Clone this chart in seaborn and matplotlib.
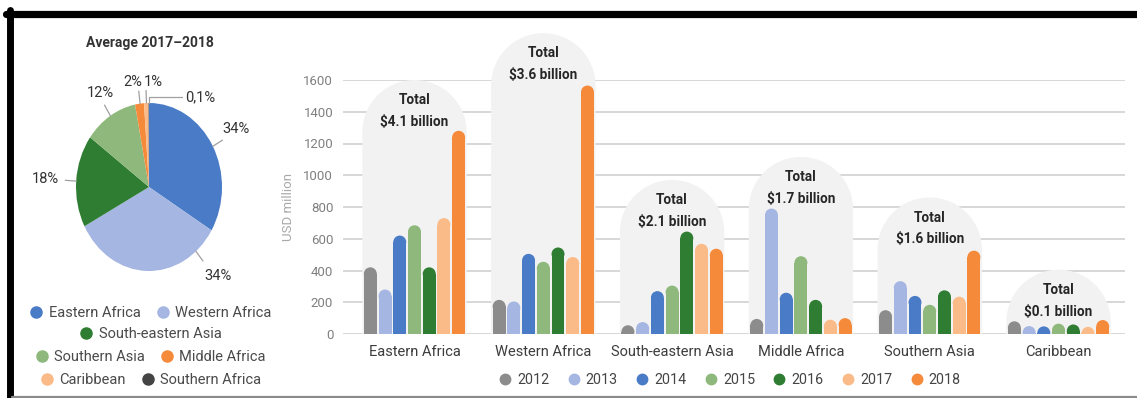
import numpy as np
import pandas as pd
import matplotlib
matplotlib.use("Agg")
import matplotlib.pyplot as plt
from matplotlib.patches import Ellipse, Polygon
from matplotlib.lines import Line2D
import seaborn as sns

# ---- data -----------------------------------------------------------------
regions = ["Eastern Africa", "Western Africa", "South-eastern Asia",
           "Middle Africa", "Southern Asia", "Caribbean"]
years = ["2012", "2013", "2014", "2015", "2016", "2017", "2018"]

# USD million per year, one list per region (2012 ... 2018)
eastern_africa = [420, 280, 620, 685, 420, 730, 1280]
western_africa = [215, 205, 505, 455, 545, 485, 1565]
south_eastern_asia = [55, 75, 270, 305, 645, 568, 537]
middle_africa = [95, 790, 260, 490, 215, 90, 100]
southern_asia = [150, 333, 240, 184, 275, 235, 525]
caribbean = [80, 50, 48, 65, 60, 45, 88]

totals_billion = [4.1, 3.6, 2.1, 1.7, 1.6, 0.1]

pie_regions = ["Eastern Africa", "Western Africa", "South-eastern Asia",
               "Southern Asia", "Middle Africa", "Caribbean", "Southern Africa"]
pie_share = [34, 34, 18, 12, 2, 1, 0.1]
pie_text = ["34%", "34%", "18%", "12%", "2%", "1%", "0,1%"]

# ---- style ----------------------------------------------------------------
year_colors = ["#8c8c8c", "#a4b6e1", "#4a7bc6", "#8fb97c",
               "#2f7d32", "#fbbb88", "#f58a3b"]
region_colors = {
    "Eastern Africa": "#4a7bc6", "Western Africa": "#a4b6e1",
    "South-eastern Asia": "#2f7d32", "Southern Asia": "#8fb97c",
    "Middle Africa": "#f58a3b", "Caribbean": "#fbbb88",
    "Southern Africa": "#444444",
}
dome_top = [1600, 1895, 970, 1115, 860, 405]   # height of the grey backdrop

sns.set_style("white")
plt.rcParams["font.family"] = ["Roboto", "DejaVu Sans"]

W, H = 1137, 398
fig = plt.figure(figsize=(W / 100, H / 100), dpi=100)


def fx(px):
    return px / W


def fy(py):
    return 1 - py / H


# ---- bar chart ------------------------------------------------------------
series = [eastern_africa, western_africa, south_eastern_asia,
          middle_africa, southern_asia, caribbean]
df = pd.DataFrame(
    [(r, y, v) for r, vals in zip(regions, series) for y, v in zip(years, vals)],
    columns=["region", "year", "usd"],
)

ax = fig.add_axes([fx(343), fy(334), fx(1125) - fx(343), fy(80) - fy(334)])
sns.barplot(data=df, x="region", y="usd", hue="year", order=regions,
            hue_order=years, palette=year_colors, saturation=1,
            width=0.8, gap=0.12, legend=False, ax=ax, linewidth=0)
bars = list(ax.patches)

xlim = (-0.555, 5.516)
ylim = (0, 1600)
ax.set_xlim(*xlim)
ax.set_ylim(*ylim)
ax.set_yticks(np.arange(0, 1601, 200))
ax.yaxis.grid(True, color="#d4d4d4", linewidth=1.3, zorder=0)
ax.set_axisbelow(True)
for s in ax.spines.values():
    s.set_visible(False)
ax.tick_params(axis="both", length=0)
ax.tick_params(axis="y", labelsize=9.5, labelcolor="#808080", pad=7)
ax.tick_params(axis="x", labelsize=10.5, labelcolor="#3c3c3c", pad=8)
ax.set_xlabel("")
ax.set_ylabel("USD million", fontsize=9.5, color="#a8a8a8", labelpad=6)

bb = ax.get_position()
px_x = bb.width * W / (xlim[1] - xlim[0])
px_y = bb.height * H / (ylim[1] - ylim[0])

# rounded tops on every bar
for bar in bars:
    x, w, h = bar.get_x(), bar.get_width(), bar.get_height()
    ry = (w * px_x / 2) / px_y
    bar.set_height(max(h - ry, 0))
    bar.set_zorder(3)
    ax.add_patch(Ellipse((x + w / 2, h - ry), w, 2 * ry,
                         facecolor=bar.get_facecolor(), lw=0, zorder=3))

# grey arched backdrops with totals
dome_w = 0.81
t = np.linspace(0, np.pi, 90)
for i, (top, tot) in enumerate(zip(dome_top, totals_billion)):
    ry = (dome_w * px_x / 2) / px_y
    cy = top - ry
    arc_x = i + dome_w / 2 * np.cos(t)
    arc_y = np.clip(cy + ry * np.sin(t), 0, None)
    verts = np.column_stack([
        np.r_[i + dome_w / 2, arc_x, i - dome_w / 2],
        np.r_[0, arc_y, 0],
    ])
    ax.add_patch(Polygon(verts, closed=True, facecolor="#f2f2f2", lw=0,
                         zorder=1, clip_on=False))
    ax.text(i, top - 31 / px_y, f"Total\n${tot:.1f} billion", ha="center",
            va="center", fontsize=9.8, fontweight="bold", color="#262626",
            linespacing=1.7, zorder=4, clip_on=False)

year_handles = [Line2D([], [], marker="o", ls="", color=c, markersize=7.5)
                for c in year_colors]
fig.legend(year_handles, years, loc="center", bbox_to_anchor=(fx(730), fy(380)),
           ncol=7, frameon=False, fontsize=10.3, labelcolor="#444444",
           handlelength=0.8, handletextpad=0.45, columnspacing=1.3,
           borderpad=0)

# ---- pie ------------------------------------------------------------------
pax = fig.add_axes([fx(76), fy(271), fx(222) - fx(76), fy(103) - fy(271)])
wedges, _ = pax.pie(pie_share, colors=[region_colors[r] for r in pie_regions],
                    startangle=90, counterclock=False,
                    wedgeprops=dict(linewidth=0))
pax.set_aspect("auto")
pax.set_xlim(-1, 1)
pax.set_ylim(-1, 1)
pax.axis("off")

label_angle = [30, -48, 176, 121, 100, 87, None]
leader_angle = [29, -50, 176, 122, 97, 92, None]
label_r = [1.38, 1.42, 1.42, 1.30, 1.27, 1.25, None]
lead_col = "#a0a0a0"
for txt, la, ld, lr in zip(pie_text, label_angle, leader_angle, label_r):
    if la is None:
        continue
    a = np.deg2rad(ld)
    pax.plot([np.cos(a), 1.15 * np.cos(a)], [np.sin(a), 1.15 * np.sin(a)],
             color=lead_col, lw=0.9, clip_on=False)
    b = np.deg2rad(la)
    pax.text(lr * np.cos(b), lr * np.sin(b), txt, ha="center", va="center",
             fontsize=10.5, color="#333333", clip_on=False)
# the thinnest slice gets an elbow leader
pax.plot([0.0, 0.0, 0.45], [1.0, 1.07, 1.07], color=lead_col, lw=0.9,
         clip_on=False)
pax.text(0.49, 1.07, pie_text[-1], ha="left", va="center", fontsize=10.5,
         color="#333333", clip_on=False)

fig.text(fx(150), fy(43), "Average 2017\u20132018", ha="center", va="center",
         fontsize=10, fontweight="bold", color="#333333")

legend_rows = [["Eastern Africa", "Western Africa"], ["South-eastern Asia"],
               ["Southern Asia", "Middle Africa"], ["Caribbean", "Southern Africa"]]
row_y = [313, 334, 357, 380]
for names, yy in zip(legend_rows, row_y):
    hs = [Line2D([], [], marker="o", ls="", color=region_colors[n], markersize=8)
          for n in names]
    fig.legend(hs, names, loc="center", bbox_to_anchor=(fx(151), fy(yy)),
               ncol=len(names), frameon=False, fontsize=10.5,
               labelcolor="#4a4a4a", handlelength=0.8, handletextpad=0.45,
               columnspacing=1.1, borderpad=0)

# ---- frame ----------------------------------------------------------------
fig.add_artist(Line2D([fx(6), 1], [fy(13.5), fy(13.5)], color="black", lw=5.2))
fig.add_artist(Line2D([fx(9.5), fx(9.5)], [fy(10), 0], color="black", lw=5.0))
fig.add_artist(Line2D([fx(12), 1], [fy(396.5), fy(396.5)], color="#8a8a8a", lw=1.6))

fig.savefig("out.png", dpi=100)
